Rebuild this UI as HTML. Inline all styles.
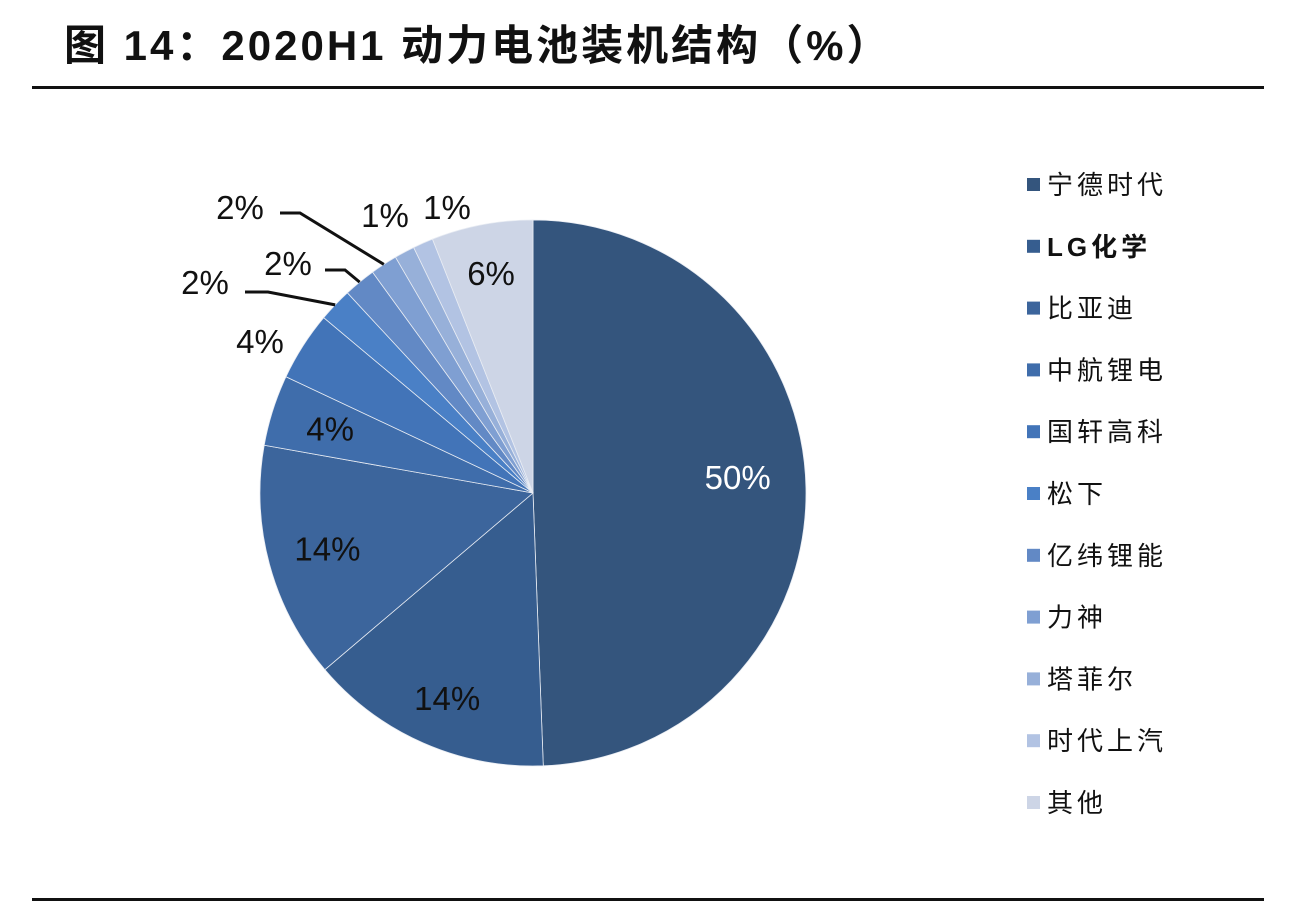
<!DOCTYPE html>
<html><head><meta charset="utf-8"><style>
body{margin:0;background:#fff;width:1290px;height:904px;overflow:hidden;font-family:"Liberation Sans","Noto Sans CJK SC",sans-serif}
#title{position:absolute;left:64px;top:12px;font-size:42px;font-weight:bold;color:#111;letter-spacing:3px}
.rule{position:absolute;left:32px;width:1232px;background:#111}
</style></head><body>
<div id="title">图 14：2020H1 动力电池装机结构（%）</div>
<div class="rule" style="top:86px;height:3px"></div>
<div class="rule" style="top:898px;height:3px"></div>
<svg id="chart" width="1290" height="904" style="position:absolute;left:0;top:0"></svg>
<script>
const categories=["宁德时代","LG化学","比亚迪","中航锂电","国轩高科","松下","亿纬锂能","力神","塔菲尔","时代上汽","其他"];
const values=[49.4,14.4,14.0,4.2,4.1,2.0,1.9,1.6,1.2,1.2,6.0];
const labels=["50%","14%","14%","4%","4%","2%","2%","2%","1%","1%","6%"];
const colors=["#34557d","#365d8f","#3c659c","#3f6dab","#4274b8","#4a80c6","#6289c5","#7f9fd2","#97b0d9","#b2c3e3","#cdd5e6"];
const NS="http://www.w3.org/2000/svg",svg=document.getElementById('chart');
const cx=533,cy=493,R=273;
function pt(a,r){return [cx+r*Math.sin(a),cy-r*Math.cos(a)];}
function mk(t,at){const e=document.createElementNS(NS,t);for(const k in at)e.setAttribute(k,at[k]);svg.appendChild(e);return e;}
const total=values.reduce((a,b)=>a+b,0);
let acc=0;
// layout for labels outside the pie: [textX, textY(baseline), lineStartX, lineEndX, lineY]
const outside={5:[205,294,245,268,292],6:[288,275,325,345,270],7:[240,219,280,300,213]};
const fixed={4:[260,353],8:[385,227],9:[447,219]};
values.forEach((v,i)=>{
  const a0=acc/total*2*Math.PI;acc+=v;const a1=acc/total*2*Math.PI;
  const p0=pt(a0,R),p1=pt(a1,R),large=(a1-a0)>Math.PI?1:0;
  const s=mk('path',{d:`M${cx},${cy}L${p0[0]},${p0[1]}A${R},${R} 0 ${large} 1 ${p1[0]},${p1[1]}Z`,fill:colors[i],stroke:'#e8ecf3','stroke-width':0.8});
  
  
  const am=(a0+a1)/2;
  let tx,ty,fill='#111';
  if(outside[i]){
    const o=outside[i],e=pt(am,R);
    const l=mk('polyline',{points:`${o[2]},${o[4]} ${o[3]},${o[4]} ${e[0]},${e[1]}`,fill:'none',stroke:'#111','stroke-width':3});
    
    
    tx=o[0];ty=o[1];
  } else if(fixed[i]){tx=fixed[i][0];ty=fixed[i][1];}
  else {const e=pt(am,i==0?0.75*R:(i==10?0.82*R:0.78*R));tx=e[0];ty=e[1]+12;if(i==0){fill='#fff';ty-=12;}if(i==1)ty+=10;}
  const t=mk('text',{x:tx,y:ty,'text-anchor':'middle','font-size':33,fill:fill,'font-family':'Liberation Sans, sans-serif'});
  t.textContent=labels[i];
  
  
});
categories.forEach((c,i)=>{
  const y=184+i*61.8;
  const r=mk('rect',{x:1027,y:y-6,width:13,height:13,fill:colors[i]});
  
  
  const t=mk('text',{x:1047,y:y+10,'font-size':26,fill:'#111','letter-spacing':4,'font-family':'Liberation Sans, Noto Sans CJK SC, sans-serif','font-weight':i==1?'bold':'normal'});
  t.textContent=c;
  
  
});
</script>
</body></html>
